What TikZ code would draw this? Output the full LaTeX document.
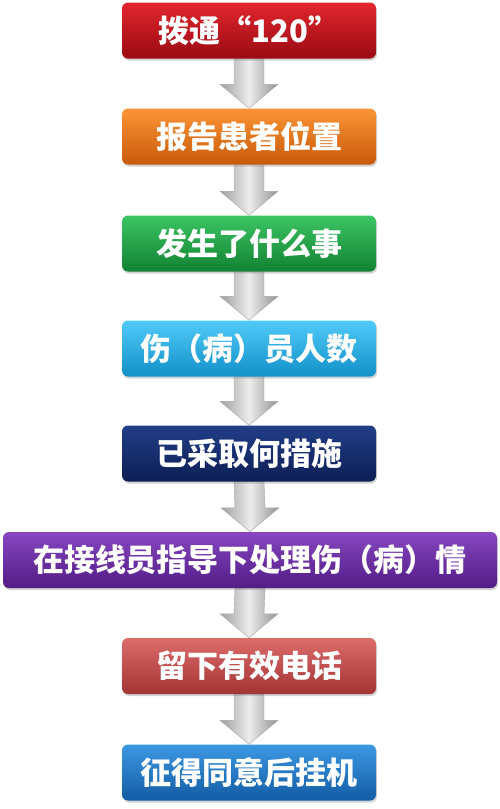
\documentclass[tikz,border=0pt]{standalone}
\usepackage{fontspec}
\newfontfamily\cjk{Noto Sans CJK SC}
\usetikzlibrary{calc,shadows,backgrounds}
\definecolor{rT}{HTML}{E2262E}\definecolor{rM}{HTML}{C8121A}\definecolor{rB}{HTML}{9A0A12}
\definecolor{oT}{HTML}{FB9436}\definecolor{oM}{HTML}{F07A18}\definecolor{oB}{HTML}{C85A0A}
\definecolor{gT}{HTML}{3CC464}\definecolor{gM}{HTML}{22AA4A}\definecolor{gB}{HTML}{128232}
\definecolor{cT}{HTML}{50CAF8}\definecolor{cM}{HTML}{2AB6EE}\definecolor{cB}{HTML}{1290C8}
\definecolor{nT}{HTML}{223E88}\definecolor{nM}{HTML}{15307A}\definecolor{nB}{HTML}{0C1E54}
\definecolor{pT}{HTML}{8646C0}\definecolor{pM}{HTML}{7432AC}\definecolor{pB}{HTML}{521C86}
\definecolor{sT}{HTML}{DC6C6A}\definecolor{sM}{HTML}{CE5252}\definecolor{sB}{HTML}{A23434}
\definecolor{bT}{HTML}{3C98E2}\definecolor{bM}{HTML}{2282D2}\definecolor{bB}{HTML}{125CA4}
\tikzset{
  x=1pt, y=1pt,
  stepbox/.style={rounded corners=6pt, minimum height=56pt, minimum width=254pt,
    inner sep=0pt, text=white, font=\cjk\bfseries\fontsize{31}{31}\selectfont,
    drop shadow={opacity=0.35, shadow xshift=1pt, shadow yshift=-2pt}},
  wide/.style={minimum width=494pt},
  shade3/.style={top color=#1T, middle color=#1M, bottom color=#1B},
  garrow/.style={left color=gray!75, right color=gray!85, middle color=gray!15, draw=gray!70, line width=0.4pt},
}
\newcommand{\blockarrow}[2]{%
  \path[garrow] ($(#1.south)+(-15,0)$) -- ($(#1.south)+(15,0)$)
    -- ($(#2.north)+(15,24)$) -- ($(#2.north)+(29,24)$) -- (#2.north)
    -- ($(#2.north)+(-29,24)$) -- ($(#2.north)+(-15,24)$) -- cycle;}
\begin{document}
\begin{tikzpicture}
\useasboundingbox (0,0) rectangle (500,-809);
\node[stepbox, shade3=r] (b1) at (249,-30.5) {拨通“120”};
\node[stepbox, shade3=o] (b2) at (249,-136.5) {报告患者位置};
\node[stepbox, shade3=g] (b3) at (249,-243.5) {发生了什么事};
\node[stepbox, shade3=c] (b4) at (249,-348.5) {伤（病）员人数};
\node[stepbox, shade3=n] (b5) at (249,-453.5) {已采取何措施};
\node[stepbox, wide, shade3=p] (b6) at (250,-560) {在接线员指导下处理伤（病）情};
\node[stepbox, shade3=s] (b7) at (249,-666) {留下有效电话};
\node[stepbox, shade3=b] (b8) at (249,-772.5) {征得同意后挂机};
\begin{scope}[on background layer]
\blockarrow{b1}{b2}
\blockarrow{b2}{b3}
\blockarrow{b3}{b4}
\blockarrow{b4}{b5}
\blockarrow{b5}{b6}
\blockarrow{b6}{b7}
\blockarrow{b7}{b8}
\end{scope}
\end{tikzpicture}
\end{document}
